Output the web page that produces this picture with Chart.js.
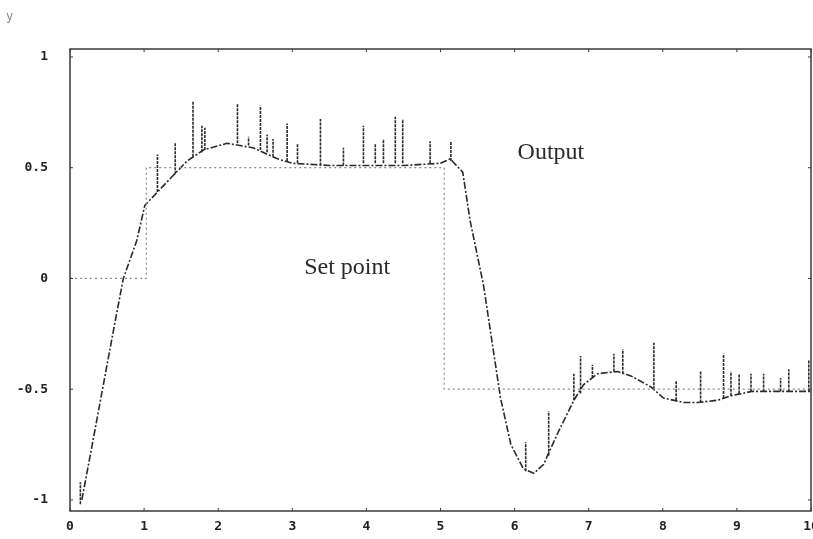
<!DOCTYPE html>
<html>
<head>
<meta charset="utf-8">
<script src="https://cdn.jsdelivr.net/npm/chart.js@4/dist/chart.umd.min.js"></script>
<style>
  html, body { margin: 0; padding: 0; background: #fff; }
  #wrap { width: 813px; height: 539px; }
</style>
</head>
<body>
<div id="wrap"><canvas id="chart"></canvas></div>
<script>
// set point (step input)
const setX = [0, 1.03, 1.03, 5.05, 5.05, 10];
const setY = [0, 0, 0.5, 0.5, -0.5, -0.5];

// output response
const outX = [0.16, 0.30, 0.45, 0.60, 0.72, 0.90, 1.01, 1.18, 1.35, 1.58, 1.80, 2.12, 2.47, 2.80, 3.00, 3.50, 4.00, 4.50, 5.00, 5.13, 5.30, 5.40, 5.58, 5.81, 5.95, 6.12, 6.26, 6.39, 6.58, 6.80, 6.93, 7.12, 7.39, 7.57, 7.84, 8.01, 8.28, 8.47, 8.74, 8.92, 9.20, 9.60, 10.0];
const outY = [-1.0, -0.75, -0.48, -0.21, 0.0, 0.17, 0.33, 0.39, 0.45, 0.53, 0.58, 0.61, 0.59, 0.54, 0.52, 0.51, 0.51, 0.51, 0.52, 0.54, 0.48, 0.26, -0.03, -0.54, -0.75, -0.86, -0.88, -0.84, -0.70, -0.55, -0.48, -0.43, -0.42, -0.44, -0.49, -0.54, -0.56, -0.56, -0.55, -0.53, -0.51, -0.51, -0.51];

// noise spikes on the output
const spikeX = [0.14, 1.18, 1.42, 1.66, 1.78, 1.82, 2.26, 2.41, 2.57, 2.66, 2.74, 2.93, 3.07, 3.38, 3.69, 3.96, 4.12, 4.23, 4.39, 4.49, 4.86, 5.14,
                6.15, 6.46, 6.80, 6.89, 7.05, 7.34, 7.46, 7.88, 8.18, 8.51, 8.82, 8.92, 9.03, 9.19, 9.36, 9.59, 9.70, 9.97];
const spikeLow = [-1.02, 0.39, 0.47, 0.55, 0.57, 0.58, 0.61, 0.60, 0.58, 0.57, 0.55, 0.53, 0.52, 0.51, 0.51, 0.52, 0.52, 0.52, 0.52, 0.52, 0.52, 0.53,
                  -0.87, -0.80, -0.55, -0.52, -0.45, -0.42, -0.43, -0.50, -0.55, -0.56, -0.54, -0.53, -0.52, -0.51, -0.51, -0.51, -0.51, -0.51];
const spikeHigh = [-0.92, 0.56, 0.61, 0.80, 0.69, 0.68, 0.79, 0.64, 0.78, 0.65, 0.63, 0.70, 0.61, 0.72, 0.59, 0.69, 0.61, 0.63, 0.73, 0.72, 0.62, 0.62,
                   -0.74, -0.60, -0.43, -0.35, -0.39, -0.34, -0.32, -0.29, -0.46, -0.42, -0.34, -0.42, -0.43, -0.43, -0.43, -0.45, -0.41, -0.37];

const xTicks = [0, 1, 2, 3, 4, 5, 6, 7, 8, 9, 10];
const yTicks = [-1, -0.5, 0, 0.5, 1];

const notes = [
  { text: "Set point", x: 3.74, y: 0.05 },
  { text: "Output", x: 6.49, y: 0.57 }
];

const setData = setX.map((x, i) => ({ x: x, y: setY[i] }));
const outData = outX.map((x, i) => ({ x: x, y: outY[i] }));
const spikeData = [];
spikeX.forEach((x, i) => {
  spikeData.push({ x: x, y: spikeLow[i] });
  spikeData.push({ x: x, y: spikeHigh[i] });
  spikeData.push({ x: x, y: null });
});

const frame = {
  id: "frame",
  afterDraw(chart) {
    const { ctx, chartArea: a, scales } = chart;
    ctx.save();
    ctx.strokeStyle = "#3a3a3a";
    ctx.lineWidth = 1.5;
    ctx.strokeRect(a.left, a.top, a.right - a.left, a.bottom - a.top);
    // small inward ticks
    ctx.lineWidth = 1;
    xTicks.forEach(v => {
      const px = scales.x.getPixelForValue(v);
      ctx.beginPath();
      ctx.moveTo(px, a.bottom); ctx.lineTo(px, a.bottom - 3);
      ctx.moveTo(px, a.top); ctx.lineTo(px, a.top + 3);
      ctx.stroke();
    });
    yTicks.forEach(v => {
      const py = scales.y.getPixelForValue(v);
      ctx.beginPath();
      ctx.moveTo(a.left, py); ctx.lineTo(a.left + 3, py);
      ctx.moveTo(a.right, py); ctx.lineTo(a.right - 3, py);
      ctx.stroke();
    });
    ctx.fillStyle = "#2a2a2a";
    ctx.font = "24px 'Liberation Serif'";
    ctx.textAlign = "center";
    ctx.textBaseline = "middle";
    notes.forEach(n => {
      ctx.fillText(n.text, scales.x.getPixelForValue(n.x), scales.y.getPixelForValue(n.y));
    });
    ctx.fillStyle = "#888";
    ctx.font = "12px 'DejaVu Sans Mono'";
    ctx.textAlign = "left";
    ctx.fillText("y", 6, 17);
    ctx.restore();
  }
};

new Chart(document.getElementById("chart"), {
  type: "scatter",
  data: {
    datasets: [
      {
        label: "Set point",
        data: setData,
        showLine: true,
        borderColor: "#8a8a8a",
        borderWidth: 1.2,
        borderDash: [2, 3],
        pointRadius: 0
      },
      {
        label: "Output",
        data: outData,
        showLine: true,
        borderColor: "#2a2a2a",
        borderWidth: 1.6,
        borderDash: [7, 2, 2, 2],
        pointRadius: 0
      },
      {
        label: "Noise",
        data: spikeData,
        showLine: true,
        spanGaps: false,
        borderColor: "#2a2a2a",
        borderWidth: 1.6,
        borderDash: [3, 1],
        pointRadius: 0
      }
    ]
  },
  options: {
    responsive: true,
    maintainAspectRatio: false,
    animation: false,
    layout: { padding: { top: 49, right: 2, left: 0, bottom: 0 } },
    plugins: { legend: { display: false }, tooltip: { enabled: false } },
    scales: {
      x: {
        type: "linear",
        min: 0,
        max: 10,
        grid: { display: false },
        border: { display: false },
        afterBuildTicks: s => { s.ticks = xTicks.map(v => ({ value: v })); },
        afterFit: s => { s.height = 28; s.paddingLeft = 0; s.paddingRight = 0; },
        ticks: {
          color: "#222",
          font: { family: "DejaVu Sans Mono", size: 13, weight: "bold" },
          padding: 0,
          maxRotation: 0,
          autoSkip: false
        }
      },
      y: {
        type: "linear",
        min: -1.05,
        max: 1.036,
        grid: { display: false },
        border: { display: false },
        afterBuildTicks: s => { s.ticks = yTicks.map(v => ({ value: v })); },
        afterFit: s => { s.width = 70; },
        ticks: {
          color: "#222",
          font: { family: "DejaVu Sans Mono", size: 13, weight: "bold" },
          padding: 14,
          autoSkip: false,
          callback: v => String(v)
        }
      }
    }
  },
  plugins: [frame]
});
</script>
</body>
</html>
